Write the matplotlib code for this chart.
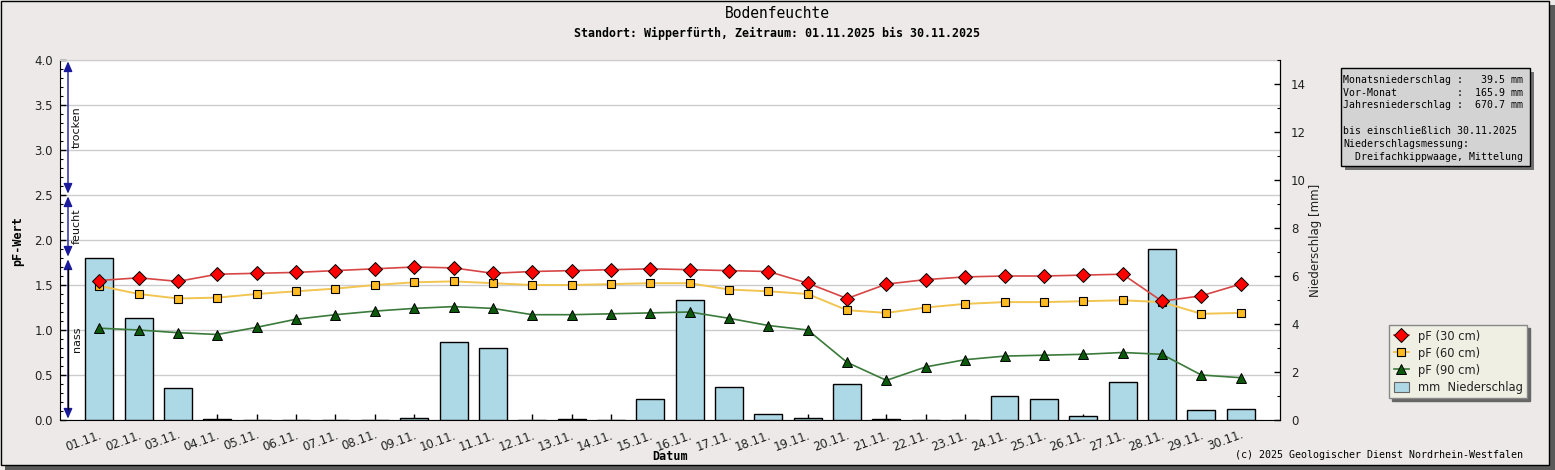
import matplotlib
matplotlib.use('Agg')
import matplotlib.pyplot as plt
from matplotlib.patches import Rectangle, Patch
from matplotlib.lines import Line2D
from matplotlib.ticker import MultipleLocator

# ---------------- data ----------------
days = [f"{d:02d}.11." for d in range(1, 31)]
pf30 = [1.55, 1.58, 1.54, 1.62, 1.63, 1.64, 1.66, 1.68, 1.70, 1.69,
        1.63, 1.65, 1.66, 1.67, 1.68, 1.67, 1.66, 1.65, 1.52, 1.35,
        1.51, 1.56, 1.59, 1.60, 1.60, 1.61, 1.62, 1.32, 1.38, 1.51]
pf60 = [1.49, 1.40, 1.35, 1.36, 1.40, 1.43, 1.46, 1.50, 1.53, 1.54,
        1.52, 1.50, 1.50, 1.51, 1.52, 1.52, 1.45, 1.43, 1.40, 1.22,
        1.19, 1.25, 1.29, 1.31, 1.31, 1.32, 1.33, 1.31, 1.18, 1.19]
pf90 = [1.02, 1.00, 0.97, 0.95, 1.03, 1.12, 1.17, 1.21, 1.24, 1.26,
        1.24, 1.17, 1.17, 1.18, 1.19, 1.20, 1.13, 1.05, 1.00, 0.64,
        0.44, 0.59, 0.67, 0.71, 0.72, 0.73, 0.75, 0.73, 0.50, 0.47]
rain = [6.74, 4.24, 1.32, 0.05, 0.0, 0.0, 0.0, 0.0, 0.07, 3.24,
        2.99, 0.0, 0.05, 0.0, 0.86, 4.99, 1.36, 0.24, 0.07, 1.49,
        0.05, 0.0, 0.0, 0.99, 0.86, 0.15, 1.57, 7.11, 0.40, 0.44]

band_bounds = [0.0, 1.8, 2.5, 4.0]
band_names = ["nass", "feucht", "trocken"]

info_lines = [
    "Monatsniederschlag :   39.5 mm",
    "Vor-Monat          :  165.9 mm",
    "Jahresniederschlag :  670.7 mm",
    "",
    "bis einschließlich 30.11.2025",
    "Niederschlagsmessung:",
    "  Dreifachkippwaage, Mittelung",
]
series_labels = ["pF (30 cm)", "pF (60 cm)", "pF (90 cm)", "mm  Niederschlag"]

# ---------------- figure ----------------
W, H = 1555, 470
BG = '#ece9e8'
fig = plt.figure(figsize=(W / 100, H / 100), dpi=100)
fig.patch.set_facecolor(BG)


def prect(x0, y0, x1, y1, **kw):
    r = Rectangle((x0 / W, 1 - y1 / H), (x1 - x0) / W, (y1 - y0) / H,
                  transform=fig.transFigure, **kw)
    fig.patches.append(r)
    return r


# outer frame with shadow
prect(5, 5, 1555, 470, facecolor='#5a5a5a', edgecolor='none', zorder=-10)
prect(0.5, 0.5, 1549, 465, facecolor=BG, edgecolor='black', lw=1, zorder=-9)

MONO = 'DejaVu Sans Mono'
SANS = 'DejaVu Sans'

fig.text(0.5, 1 - 14 / H, 'Bodenfeuchte', ha='center', va='center',
         family=MONO, fontsize=10.5, color='black')
fig.text(0.5, 1 - 33 / H,
         'Standort: Wipperfürth, Zeitraum: 01.11.2025 bis 30.11.2025',
         ha='center', va='center', family=MONO, fontsize=8.4,
         fontweight='bold', color='black')

pos = [60 / W, 1 - 420 / H, (1280 - 60) / W, 360 / H]
ax = fig.add_axes(pos)
ax2 = ax.twinx()
ax3 = fig.add_axes(pos, sharex=ax, sharey=ax)

x = list(range(len(days)))

# pF axis (background with grid)
ax.set_facecolor('white')
ax.set_xlim(-1, 30)
ax.set_ylim(0, 4.0)
ax.yaxis.set_major_locator(MultipleLocator(0.5))
ax.yaxis.set_minor_locator(MultipleLocator(0.1))
ax.yaxis.set_major_formatter(matplotlib.ticker.FormatStrFormatter('%.1f'))
ax.grid(axis='y', color='#cccccc', lw=1)
ax.set_axisbelow(True)
ax.tick_params(axis='y', which='major', direction='in', length=4.5, width=1,
               labelsize=8.5, pad=5, labelcolor='#222222')
ax.tick_params(axis='y', which='minor', direction='in', length=2.5, width=0.8)
ax.set_xticks(x)
ax.set_xticklabels(days, rotation=20, ha='right', rotation_mode='anchor',
                   fontsize=8.5, color='#222222')
ax.tick_params(axis='x', direction='in', length=4, width=1, pad=6)
for s in ['left', 'bottom', 'right']:
    ax.spines[s].set_color('black')
ax.spines['top'].set_color('#cccccc')

# precipitation axis
ax2.bar(x, rain, width=0.71, color='#add8e6', edgecolor='black', lw=1, zorder=2)
ax2.set_ylim(0, 15)
ax2.yaxis.set_major_locator(MultipleLocator(2))
ax2.yaxis.set_minor_locator(MultipleLocator(1))
ax2.tick_params(axis='y', which='major', direction='in', length=4.5, width=1,
                labelsize=8.5, pad=8, labelcolor='#222222')
ax2.tick_params(axis='y', which='minor', direction='in', length=2.5, width=0.8)
for s in ['left', 'bottom', 'top']:
    ax2.spines[s].set_visible(False)
ax2.patch.set_visible(False)

# lines axis (on top)
ax3.patch.set_visible(False)
ax3.axis('off')
ax3.plot(x, pf90, color='#3a7a3a', lw=1.2, marker='^', ms=6.5,
         mfc='#0b5a0b', mec='black', mew=0.7, zorder=5, clip_on=False)
ax3.plot(x, pf60, color='#f2c550', lw=1.4, marker='s', ms=5.2,
         mfc='#ffbb22', mec='black', mew=0.8, zorder=6, clip_on=False)
ax3.plot(x, pf30, color='#d84545', lw=1.2, marker='D', ms=6.8,
         mfc='#ff0000', mec='black', mew=0.7, zorder=7, clip_on=False)

# moisture bands on the left
trans = ax3.get_yaxis_transform()
xa = (68 - 60) / 1220
xt = (77 - 60) / 1220
NAVY = '#1a1a9a'
for i, name in enumerate(band_names):
    lo, hi = band_bounds[i], band_bounds[i + 1]
    ax3.annotate('', xy=(xa, hi), xytext=(xa, lo), xycoords=trans,
                 textcoords=trans,
                 arrowprops=dict(arrowstyle='<|-|>,head_length=0.5,head_width=0.22',
                                 color=NAVY, lw=1,
                                 shrinkA=1, shrinkB=1, mutation_scale=12))
    if i == 0:
        ax3.plot([xa, xa], [lo + 0.12, hi - 0.12], color='black', lw=1,
                 transform=trans, zorder=4)
    ax3.text(xt, (lo + hi) / 2, name, transform=trans, rotation=90,
             ha='center', va='center', fontsize=8, family=SANS,
             color='#111111')

# axis labels
fig.text(17.5 / W, 1 - 241 / H, 'pF-Wert', rotation=90, ha='center',
         va='center', family=MONO, fontsize=8.5, fontweight='bold')
fig.text(670 / W, 1 - 457 / H, 'Datum', ha='center', va='center',
         family=MONO, fontsize=8.5, fontweight='bold')
fig.text(1316 / W, 1 - 240 / H, 'Niederschlag [mm]', rotation=90,
         ha='center', va='center', family=SANS, fontsize=8.5,
         color='#222222')

# info box
prect(1345, 72, 1534, 170, facecolor='#707070', edgecolor='none', zorder=1)
prect(1341, 68, 1530, 166, facecolor='#d3d3d3', edgecolor='black', lw=1,
      zorder=2)
ys = [80, 92.7, 105, 118, 131, 144, 157]
for line, yy in zip(info_lines, ys):
    if line:
        fig.text(1343 / W, 1 - yy / H, line, ha='left', va='center',
                 family=MONO, fontsize=7.1, color='black', zorder=3)

# legend
handles = [
    Line2D([], [], color='#d84545', lw=1.2, marker='D', ms=6.8,
           mfc='#ff0000', mec='black', mew=0.7),
    Line2D([], [], color='#f2c550', lw=1.4, marker='s', ms=5.2,
           mfc='#ffbb22', mec='black', mew=0.8),
    Line2D([], [], color='#3a7a3a', lw=1.2, marker='^', ms=6.5,
           mfc='#0b5a0b', mec='black', mew=0.7),
    Patch(facecolor='#add8e6', edgecolor='#666666', lw=0.8),
]
leg = fig.legend(handles, series_labels, loc='upper left',
                 bbox_to_anchor=(1389 / W, 1 - 325 / H), borderaxespad=0,
                 frameon=True, fancybox=False,
                 shadow={'color': '#666666', 'alpha': 1},
                 prop={'family': SANS, 'size': 8.3}, handlelength=1.3,
                 handleheight=0.9, handletextpad=0.8, borderpad=0.4,
                 labelspacing=0.35)
leg.get_frame().set_facecolor('#efefe3')
leg.get_frame().set_edgecolor('#888888')
leg.get_frame().set_linewidth(1)
for t in leg.get_texts():
    t.set_color('#222222')

fig.text(1523 / W, 1 - 455 / H,
         '(c) 2025 Geologischer Dienst Nordrhein-Westfalen',
         ha='right', va='center', family=MONO, fontsize=7.2, color='black')

fig.savefig('out.png', dpi=100, facecolor=fig.get_facecolor())
